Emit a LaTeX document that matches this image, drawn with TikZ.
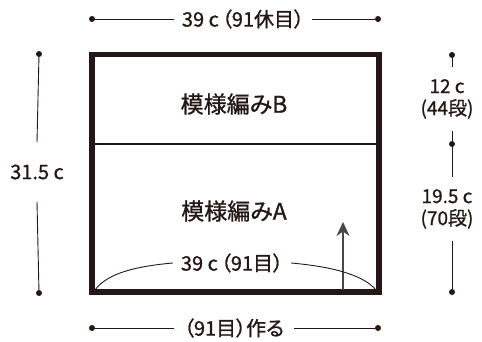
\documentclass[tikz,border=0pt]{standalone}
\usepackage{fontspec}
\setmainfont{Noto Sans CJK JP}[RawFeature=+palt,FakeBold=1]
\usetikzlibrary{arrows.meta}
\definecolor{ink}{HTML}{231815}
\definecolor{arrowgray}{HTML}{4a4646}

\begin{document}
\begin{tikzpicture}[x=1pt,y=-1pt,
		lbl/.style={font=\fontsize{20}{22}\selectfont,text=ink,inner sep=0pt,align=center},
		pat/.style={font=\fontsize{23}{26}\selectfont,text=ink,inner sep=0pt},
		dot/.style={circle,fill=ink,inner sep=0pt,minimum size=6pt},
		dim/.style={draw=ink,line width=0.9pt}]
		\useasboundingbox (0,0) rectangle (482,341);

		% the piece
		\coordinate (nw) at (92,54.5);
		\coordinate (se) at (379,292);
		\coordinate (dl) at (92,144);
		\coordinate (dr) at (379,144);
		\draw[ink,line width=2pt] (dl) -- (dr);
		\draw[ink,line width=5.5pt] (nw) rectangle (se);

		\node[pat] (patB) at (234,104) {模様編みB};
		\node[pat] (patA) at (234,211) {模様編みA};

		% knitting direction
		\coordinate (arrS) at (343,290);
		\coordinate (arrE) at (343,222);
		\draw[arrowgray,line width=1.8pt,-{Stealth[length=14pt,width=13pt]}] (arrS) -- (arrE);

		% width along the cast-on edge
		\node[lbl,inner xsep=8pt] (wIn) at (232,263) {39 c\hspace{3pt}（91目）};
		\coordinate (cl) at (95,290);
		\coordinate (cr) at (376,290);
		\draw[ink,line width=0.9pt] (cl) .. controls (108,272) and (140,266) .. (wIn.west);
		\draw[ink,line width=0.9pt] (wIn.east) .. controls (325,266) and (362,273) .. (cr);

		% dots of the dimension lines
		\foreach \n/\x/\y in {tl/92/19, tr/378/19, bl/92/328, br/378/328,
			lt/39/54, lb/39/293, rt/452/55, rm/452/144, rb/452/292}
			\node[dot] (\n) at (\x,\y) {};

		% top
		\node[lbl,inner xsep=8pt] (wTop) at (243,19) {39 c\hspace{3pt}（91休目）};
		\draw[dim] (tl) -- (wTop.west);
		\draw[dim] (wTop.east) -- (tr);

		% bottom
		\node[lbl,inner xsep=10pt] (wBot) at (234,328) {（91目）作る};
		\draw[dim] (bl) -- (wBot.west);
		\draw[dim] (wBot.east) -- (br);

		% left
		\node[lbl,inner ysep=22pt] (hAll) at (37,172) {31.5 c};
		\draw[dim] (lt) -- (hAll.north);
		\draw[dim] (hAll.south) -- (lb);

		% right
		\node[lbl,font=\fontsize{19}{22}\selectfont,inner ysep=12pt] (hB) at (447,99) {12 c\\(44段)};
		\draw[dim] (rt) -- (hB.north -| rt);
		\draw[dim] (hB.south -| rm) -- (rm);
		\node[lbl,font=\fontsize{19}{22}\selectfont,inner ysep=12pt] (hA) at (447,209) {19.5 c\\(70段)};
		\draw[dim] (rm) -- (hA.north -| rm);
		\draw[dim] (hA.south -| rb) -- (rb);
	\end{tikzpicture}
\end{document}
